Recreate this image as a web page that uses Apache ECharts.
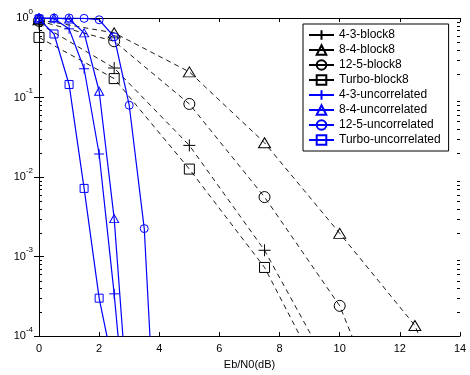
<!DOCTYPE html>
<html>
<head>
<meta charset="utf-8">
<script src="https://cdn.jsdelivr.net/npm/echarts@6/dist/echarts.min.js"></script>
<style>
  html, body { margin: 0; padding: 0; background: #fff; }
  #chart { width: 470px; height: 375px; }
</style>
</head>
<body>
<div id="chart"></div>
<script>
// Eb/N0 grid (dB) for the block-interleaved (block8) runs
const snrBlock = [0, 2.5, 5, 7.5, 10, 12.5, 15];
const ber43Block = [0.85, 0.235, 0.025, 0.0012, 2.3e-5];
const ber84Block = [0.95, 0.65, 0.21, 0.027, 0.00196, 1.36e-4, 8e-7];
const ber125Block = [0.92, 0.51, 0.083, 0.0056, 2.4e-4, 1.1e-6];
const berTurboBlock = [0.57, 0.173, 0.0126, 7.3e-4, 1.1e-5];

// Eb/N0 grid (dB) for the uncorrelated-channel runs
const snrUnc = [0, 0.5, 1, 1.5, 2, 2.5, 3, 3.5, 4];
const ber43Unc = [1, 0.98, 0.73, 0.23, 0.0195, 3.4e-4, 3e-6];
const ber84Unc = [1, 1, 0.97, 0.65, 0.12, 0.003, 8.5e-6];
const ber125Unc = [1, 1, 1, 0.99, 0.95, 0.58, 0.08, 0.00225, 6e-7];
const berTurboUnc = [0.97, 0.63, 0.146, 0.0072, 3.0e-4, 3.6e-5];

const seriesNames = [
  '4-3-block8', '8-4-block8', '12-5-block8', 'Turbo-block8',
  '4-3-uncorrelated', '8-4-uncorrelated', '12-5-uncorrelated', 'Turbo-uncorrelated'
];

// x-axis ticks
const xMin = 0, xMax = 14, xStep = 2;
// y-axis decades
const yMin = 1e-4, yMax = 1;
const minorMultipliers = [2, 3, 4, 5, 6, 7, 8, 9];

const FONT = 'Liberation Sans';
const BLUE = '#0000ff';
const PLUS = 'path://M0,5L10,5M5,0L5,10';

function pairs(xs, ys) {
  return ys.map((v, i) => [xs[i], v]);
}

// minor tick values inside each decade
const minorTicks = [];
for (let e = -4; e < 0; e++) {
  minorMultipliers.forEach(m => minorTicks.push([0, m * Math.pow(10, e)]));
}

function curve(name, xs, ys, symbol, size, color, dashed) {
  return {
    name: name,
    type: 'line',
    data: pairs(xs, ys),
    symbol: symbol,
    symbolSize: size,
    showAllSymbol: true,
    clip: true,
    z: dashed ? 2 : 3,
    lineStyle: { color: color, width: dashed ? 0.9 : 1.2, type: dashed ? [5, 4] : 'solid' },
    itemStyle: { color: 'rgba(0,0,0,0)', borderColor: color, borderWidth: 1 },
    emphasis: { disabled: true },
    animation: false
  };
}

const chart = echarts.init(document.getElementById('chart'), null, { renderer: 'canvas' });

const option = {
  backgroundColor: '#fff',
  animation: false,
  grid: { left: 39, right: 10, top: 18, bottom: 32 },
  legend: {
    orient: 'vertical',
    left: 303,
    top: 24,
    width: 153,
    padding: [5, 8, 5, 5],
    itemGap: 3,
    itemWidth: 25,
    itemHeight: 12,
    backgroundColor: '#fff',
    borderColor: '#000',
    borderWidth: 1,
    textStyle: { fontFamily: FONT, fontSize: 12, color: '#000' },
    data: seriesNames.map(n => ({ name: n, lineStyle: { type: 'solid' } })),
    selectedMode: false
  },
  xAxis: [{
    type: 'value', min: xMin, max: xMax, interval: xStep,
    name: 'Eb/N0(dB)', nameLocation: 'middle', nameGap: 18,
    nameTextStyle: { fontFamily: FONT, fontSize: 11, color: '#000' },
    axisLine: { lineStyle: { color: '#000', width: 1 } },
    axisTick: { inside: true, length: 4, lineStyle: { color: '#000' } },
    axisLabel: { fontFamily: FONT, fontSize: 11, color: '#000', margin: 7 },
    splitLine: { show: false }
  }, {
    type: 'value', position: 'top', min: xMin, max: xMax, interval: xStep,
    axisLine: { lineStyle: { color: '#000', width: 1 } },
    axisTick: { inside: true, length: 4, lineStyle: { color: '#000' } },
    axisLabel: { show: false },
    splitLine: { show: false }
  }],
  yAxis: [{
    type: 'log', logBase: 10, min: yMin, max: yMax,
    axisLine: { lineStyle: { color: '#000', width: 1 } },
    axisTick: { inside: true, length: 5, lineStyle: { color: '#000' } },
    axisLabel: {
      margin: 6,
      padding: [0, 0, 5, 0],
      formatter: v => '{b|10}{s|' + Math.round(Math.log10(v)) + '}',
      rich: {
        b: { fontFamily: FONT, fontSize: 11, color: '#000', verticalAlign: 'bottom' },
        s: { fontFamily: FONT, fontSize: 8, color: '#000', verticalAlign: 'top', padding: [0, 0, 8, 0] }
      }
    },
    splitLine: { show: false }
  }, {
    type: 'log', logBase: 10, min: yMin, max: yMax, position: 'right',
    axisLine: { lineStyle: { color: '#000', width: 1 } },
    axisTick: { inside: true, length: 5, lineStyle: { color: '#000' } },
    axisLabel: { show: false },
    splitLine: { show: false }
  }],
  series: [
    curve('4-3-block8', snrBlock, ber43Block, PLUS, 12, '#000', true),
    curve('8-4-block8', snrBlock, ber84Block, 'triangle', [12, 10], '#000', true),
    curve('12-5-block8', snrBlock, ber125Block, 'circle', 11, '#000', true),
    curve('Turbo-block8', snrBlock, berTurboBlock, 'rect', 10, '#000', true),
    curve('4-3-uncorrelated', snrUnc, ber43Unc, PLUS, 10, BLUE, false),
    curve('8-4-uncorrelated', snrUnc, ber84Unc, 'triangle', [9, 8], BLUE, false),
    curve('12-5-uncorrelated', snrUnc, ber125Unc, 'circle', 8, BLUE, false),
    curve('Turbo-uncorrelated', snrUnc, berTurboUnc, 'rect', 8, BLUE, false),
    {
      // minor log ticks on the left and right frame edges
      type: 'custom',
      silent: true,
      z: 4,
      clip: false,
      data: minorTicks,
      renderItem: function (params, api) {
        const cs = params.coordSys;
        const y = Math.round(api.coord([0, api.value(1)])[1]) + 0.5;
        return {
          type: 'group',
          children: [
            { type: 'line', shape: { x1: cs.x, y1: y, x2: cs.x + 3, y2: y }, style: { stroke: '#000', lineWidth: 1 } },
            { type: 'line', shape: { x1: cs.x + cs.width - 3, y1: y, x2: cs.x + cs.width, y2: y }, style: { stroke: '#000', lineWidth: 1 } }
          ]
        };
      }
    }
  ]
};

chart.setOption(option);
</script>
</body>
</html>
